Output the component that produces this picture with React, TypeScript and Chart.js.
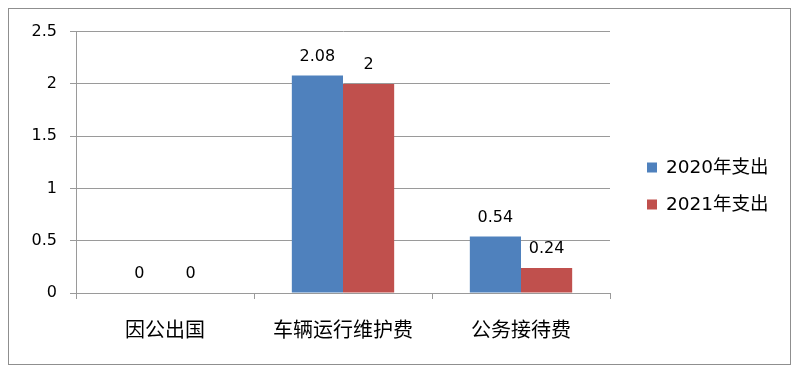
import React, { useEffect, useRef } from "react";
import { Chart, registerables } from "chart.js";

Chart.register(...registerables);

const categories = ["因公出国", "车辆运行维护费", "公务接待费"];
const series2020 = [0, 2.08, 0.54];
const series2021 = [0, 2, 0.24];
const seriesNames = ["2020年支出", "2021年支出"];
const yTicks = [0, 0.5, 1, 1.5, 2, 2.5];

const BLUE = "#4F81BD";
const RED = "#C0504D";
const GRID = "#9a9a9a";
const NUM_FONT = "'DejaVu Sans', 'Noto Sans CJK SC', sans-serif";

const valueLabels = {
  id: "valueLabels",
  afterDatasetsDraw(chart: any) {
    const ctx = chart.ctx;
    ctx.save();
    ctx.font = `16px ${NUM_FONT}`;
    ctx.fillStyle = "#000";
    ctx.textAlign = "center";
    ctx.textBaseline = "middle";
    chart.data.datasets.forEach((ds: any, i: number) => {
      const meta = chart.getDatasetMeta(i);
      meta.data.forEach((bar: any, j: number) => {
        ctx.fillText(String(ds.data[j]), bar.x, bar.y - 19);
      });
    });
    ctx.restore();
  },
};

const sideLegend = {
  id: "sideLegend",
  afterDraw(chart: any) {
    const ctx = chart.ctx;
    ctx.save();
    ctx.font = `18.5px ${NUM_FONT}`;
    ctx.textBaseline = "middle";
    ctx.textAlign = "left";
    chart.data.datasets.forEach((ds: any, i: number) => {
      const cy = 158.5 + i * 37;
      ctx.fillStyle = ds.backgroundColor;
      ctx.fillRect(638, cy - 5, 10, 10);
      ctx.fillStyle = "#000";
      ctx.fillText(ds.label, 657, cy + 1);
    });
    ctx.restore();
  },
};

export default function App() {
  const ref = useRef<HTMLCanvasElement>(null);
  useEffect(() => {
    if (!ref.current) return;
    const chart = new Chart(ref.current, {
      type: "bar",
      data: {
        labels: categories,
        datasets: [
          { label: seriesNames[0], data: series2020, backgroundColor: BLUE },
          { label: seriesNames[1], data: series2021, backgroundColor: RED },
        ],
      },
      options: {
        responsive: false,
        animation: false,
        layout: { padding: { top: 21, right: 180, bottom: 0, left: 0 } },
        datasets: {
          bar: { categoryPercentage: 0.575, barPercentage: 1 },
        },
        plugins: {
          legend: { display: false },
          tooltip: { enabled: false },
        },
        scales: {
          x: {
            grid: {
              offset: true,
              drawOnChartArea: false,
              drawTicks: true,
              tickLength: 6,
              color: GRID,
            },
            border: { display: true, color: GRID },
            ticks: {
              padding: 18,
              color: "#000",
              font: { size: 20, family: "'Noto Sans CJK SC', sans-serif" },
            },
            afterFit: (s: any) => {
              s.height = 71;
            },
          },
          y: {
            min: 0,
            max: 2.5,
            afterBuildTicks: (s: any) => {
              s.ticks = yTicks.map((v) => ({ value: v }));
            },
            grid: { color: GRID, tickLength: 6, drawTicks: true },
            border: { display: true, color: GRID },
            ticks: {
              padding: 13,
              color: "#000",
              font: { size: 16, family: NUM_FONT },
              callback: (v: any) => String(v),
            },
            afterFit: (s: any) => {
              s.width = 67;
            },
          },
        },
      },
      plugins: [valueLabels, sideLegend],
    });
    return () => chart.destroy();
  }, []);
  return (
    <div
      style={{
        border: "1px solid #8f8f8f",
        width: 781,
        height: 355,
        background: "#fff",
      }}
    >
      <canvas ref={ref} width={781} height={355} style={{ display: "block" }} />
    </div>
  );
}
